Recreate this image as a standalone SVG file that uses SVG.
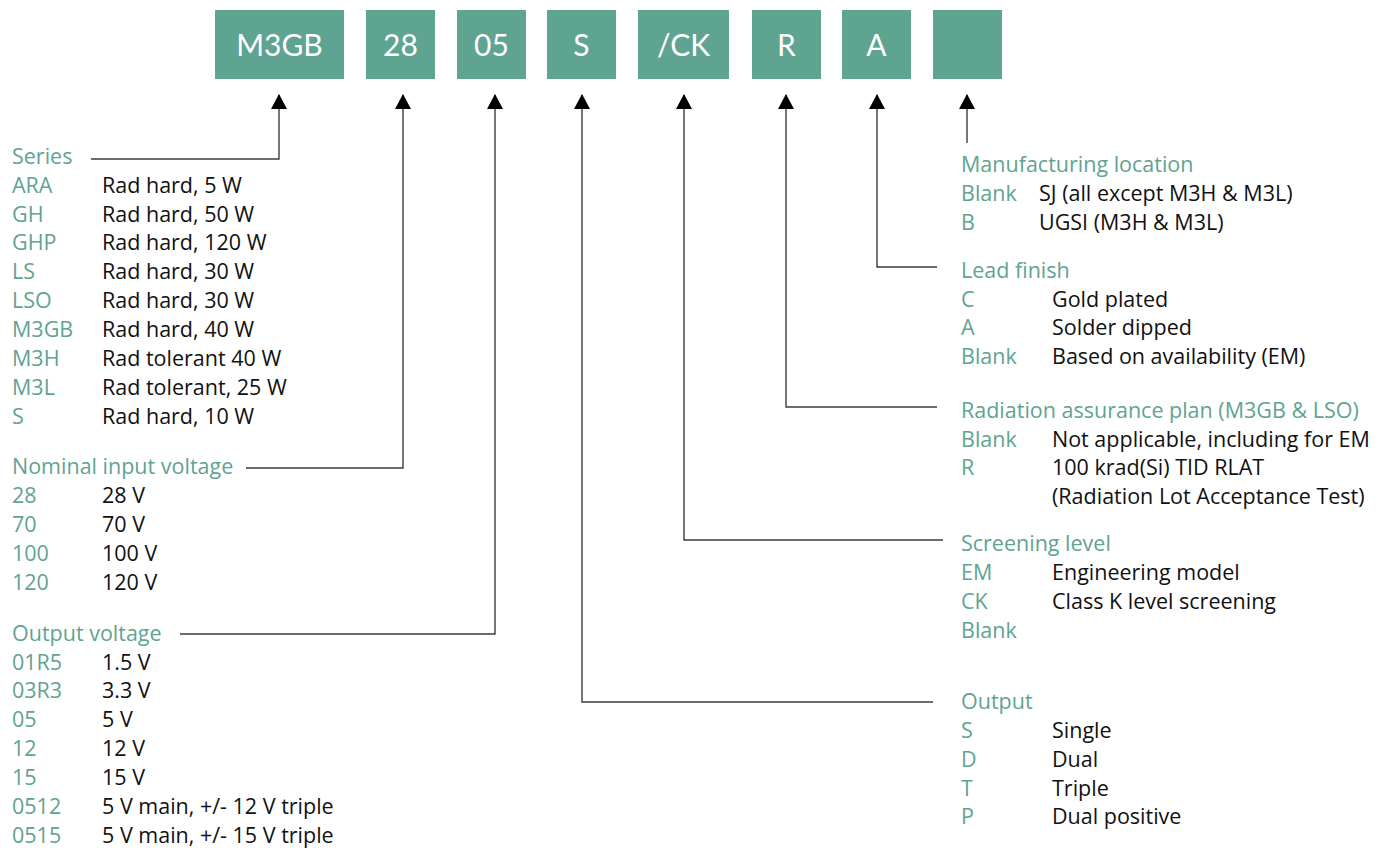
<svg xmlns="http://www.w3.org/2000/svg" width="1385" height="850" viewBox="0 0 1385 850">
<defs>
<style>
.box{fill:#5fa391}
.bt{font-family:Lato,"Open Sans",sans-serif;font-size:30px;fill:#ffffff;text-anchor:middle}
.g{font-family:"Open Sans",Lato,sans-serif;font-size:21.5px;fill:#5fa391}
.k{font-family:"Open Sans",Lato,sans-serif;font-size:21.5px;fill:#111111}
.ln{fill:none;stroke:#3c3c3c;stroke-width:1.4}
</style>
<marker id="ah" viewBox="0 0 16 16" refX="14" refY="8" markerWidth="16" markerHeight="16" markerUnits="userSpaceOnUse" orient="auto">
<path d="M0,0 L15,8 L0,16 Z" fill="#000"/>
</marker>
</defs>
<rect width="1385" height="850" fill="#ffffff"/>

<g id="box-m3gb"><rect class="box" x="215" y="10" width="129" height="69"/><text class="bt" x="279.5" y="56">M3GB</text></g>
<g id="box-28"><rect class="box" x="366" y="10" width="69" height="69"/><text class="bt" x="400.5" y="56">28</text></g>
<g id="box-05"><rect class="box" x="457" y="10" width="69" height="69"/><text class="bt" x="491.5" y="56">05</text></g>
<g id="box-s"><rect class="box" x="547" y="10" width="69" height="69"/><text class="bt" x="581.5" y="56">S</text></g>
<g id="box-ck"><rect class="box" x="638" y="10" width="91" height="69"/><text class="bt" x="683.5" y="56">/CK</text></g>
<g id="box-r"><rect class="box" x="752" y="10" width="69" height="69"/><text class="bt" x="786.5" y="56">R</text></g>
<g id="box-a"><rect class="box" x="842" y="10" width="69" height="69"/><text class="bt" x="876.5" y="56">A</text></g>
<g id="box-blank"><rect class="box" x="933" y="10" width="69" height="69"/></g>

<g id="connectors">
<path class="ln" d="M91,159 H279 V95" marker-end="url(#ah)"/>
<path class="ln" d="M246,468 H403 V95" marker-end="url(#ah)"/>
<path class="ln" d="M180,634 H495 V95" marker-end="url(#ah)"/>
<path class="ln" d="M933,702 H582 V95" marker-end="url(#ah)"/>
<path class="ln" d="M943,540 H684 V95" marker-end="url(#ah)"/>
<path class="ln" d="M937,407 H786 V95" marker-end="url(#ah)"/>
<path class="ln" d="M937,267 H877 V95" marker-end="url(#ah)"/>
<path class="ln" d="M967,143 V95" marker-end="url(#ah)"/>
</g>

<g id="series">
<text class="g" x="12" y="164">Series</text>
<text class="g" x="12" y="193">ARA</text><text class="k" x="102" y="193">Rad hard, 5 W</text>
<text class="g" x="12" y="222">GH</text><text class="k" x="102" y="222">Rad hard, 50 W</text>
<text class="g" x="12" y="250">GHP</text><text class="k" x="102" y="250">Rad hard, 120 W</text>
<text class="g" x="12" y="279">LS</text><text class="k" x="102" y="279">Rad hard, 30 W</text>
<text class="g" x="12" y="308">LSO</text><text class="k" x="102" y="308">Rad hard, 30 W</text>
<text class="g" x="12" y="337">M3GB</text><text class="k" x="102" y="337">Rad hard, 40 W</text>
<text class="g" x="12" y="366">M3H</text><text class="k" x="102" y="366">Rad tolerant 40 W</text>
<text class="g" x="12" y="395">M3L</text><text class="k" x="102" y="395">Rad tolerant, 25 W</text>
<text class="g" x="12" y="424">S</text><text class="k" x="102" y="424">Rad hard, 10 W</text>
</g>

<g id="nominal">
<text class="g" x="12" y="474">Nominal input voltage</text>
<text class="g" x="12" y="503">28</text><text class="k" x="102" y="503">28 V</text>
<text class="g" x="12" y="532">70</text><text class="k" x="102" y="532">70 V</text>
<text class="g" x="12" y="561">100</text><text class="k" x="102" y="561">100 V</text>
<text class="g" x="12" y="590">120</text><text class="k" x="102" y="590">120 V</text>
</g>

<g id="output-voltage">
<text class="g" x="12" y="641">Output voltage</text>
<text class="g" x="12" y="670">01R5</text><text class="k" x="102" y="670">1.5 V</text>
<text class="g" x="12" y="698">03R3</text><text class="k" x="102" y="698">3.3 V</text>
<text class="g" x="12" y="727">05</text><text class="k" x="102" y="727">5 V</text>
<text class="g" x="12" y="756">12</text><text class="k" x="102" y="756">12 V</text>
<text class="g" x="12" y="785">15</text><text class="k" x="102" y="785">15 V</text>
<text class="g" x="12" y="814">0512</text><text class="k" x="102" y="814">5 V main, +/- 12 V triple</text>
<text class="g" x="12" y="843">0515</text><text class="k" x="102" y="843">5 V main, +/- 15 V triple</text>
</g>

<g id="manufacturing">
<text class="g" x="961" y="172">Manufacturing location</text>
<text class="g" x="961" y="201">Blank</text><text class="k" x="1039" y="201">SJ (all except M3H &amp; M3L)</text>
<text class="g" x="961" y="230">B</text><text class="k" x="1039" y="230">UGSI (M3H &amp; M3L)</text>
</g>

<g id="lead-finish">
<text class="g" x="961" y="278">Lead finish</text>
<text class="g" x="961" y="307">C</text><text class="k" x="1052" y="307">Gold plated</text>
<text class="g" x="961" y="335">A</text><text class="k" x="1052" y="335">Solder dipped</text>
<text class="g" x="961" y="364">Blank</text><text class="k" x="1052" y="364">Based on availability (EM)</text>
</g>

<g id="radiation">
<text class="g" x="961" y="418">Radiation assurance plan (M3GB &amp; LSO)</text>
<text class="g" x="961" y="447">Blank</text><text class="k" x="1052" y="447">Not applicable, including for EM</text>
<text class="g" x="961" y="475">R</text><text class="k" x="1052" y="475">100 krad(Si) TID RLAT</text>
<text class="k" x="1052" y="504">(Radiation Lot Acceptance Test)</text>
</g>

<g id="screening">
<text class="g" x="961" y="551">Screening level</text>
<text class="g" x="961" y="580">EM</text><text class="k" x="1052" y="580">Engineering model</text>
<text class="g" x="961" y="609">CK</text><text class="k" x="1052" y="609">Class K level screening</text>
<text class="g" x="961" y="638">Blank</text>
</g>

<g id="output">
<text class="g" x="961" y="709">Output</text>
<text class="g" x="961" y="738">S</text><text class="k" x="1052" y="738">Single</text>
<text class="g" x="961" y="767">D</text><text class="k" x="1052" y="767">Dual</text>
<text class="g" x="961" y="796">T</text><text class="k" x="1052" y="796">Triple</text>
<text class="g" x="961" y="824">P</text><text class="k" x="1052" y="824">Dual positive</text>
</g>
</svg>
